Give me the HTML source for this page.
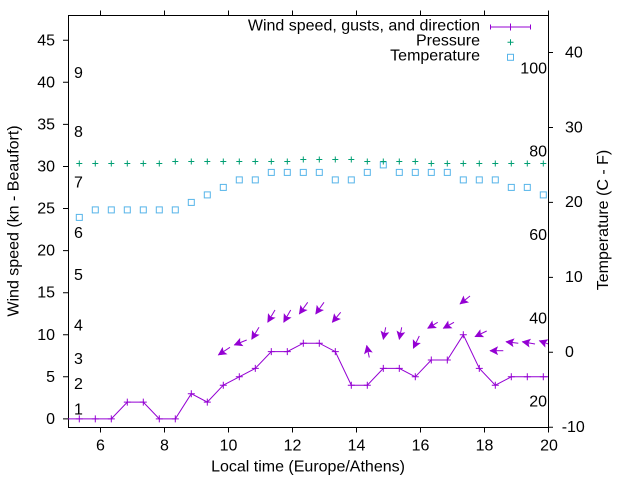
<!DOCTYPE html>
<html>
<head>
<meta charset="utf-8">
<style>
html,body{margin:0;padding:0;background:#fff;}
svg{display:block;}
text{font-family:"Liberation Sans",Arial,sans-serif;font-size:16px;fill:#000;}
</style>
</head>
<body>
<svg width="640" height="480" viewBox="0 0 640 480" xmlns="http://www.w3.org/2000/svg">
<defs>
<clipPath id="pc"><rect x="68" y="15" width="480" height="412.5"/></clipPath>
<marker id="ah" markerUnits="userSpaceOnUse" viewBox="-9 -5 10 10" markerWidth="10" markerHeight="10" refX="0" refY="0" orient="auto">
<path d="M0,0 L-7.5,-3.8 L-6,0 L-7.5,3.8 Z" fill="#9400d3" stroke="#9400d3" stroke-width="0.6" stroke-linejoin="miter"/>
</marker>
</defs>
<rect width="640" height="480" fill="#fff"/>

<!-- border -->
<rect x="68.5" y="15.5" width="480" height="412" fill="none" stroke="#000" stroke-width="1"/>

<!-- ticks -->
<path stroke="#000" stroke-width="1" fill="none" d="
M63,418.9h5 M63,376.8h5 M63,334.8h5 M63,292.7h5 M63,250.6h5 M63,208.5h5 M63,166.5h5 M63,124.4h5 M63,82.3h5 M63,40.3h5
M548,427.3h5 M548,352.3h5 M548,277.4h5 M548,202.4h5 M548,127.5h5 M548,52.5h5
M100.5,427.5v5 M164.5,427.5v5 M228.5,427.5v5 M292.5,427.5v5 M356.5,427.5v5 M420.5,427.5v5 M484.5,427.5v5 M548.5,427.5v5
M100.5,15.5v-5 M164.5,15.5v-5 M228.5,15.5v-5 M292.5,15.5v-5 M356.5,15.5v-5 M420.5,15.5v-5 M484.5,15.5v-5 M548.5,15.5v-5"/>

<!-- left tick labels -->
<g text-anchor="end">
<text x="55" y="423.9">0</text>
<text x="55" y="381.8">5</text>
<text x="55" y="339.8">10</text>
<text x="55" y="297.7">15</text>
<text x="55" y="255.6">20</text>
<text x="55" y="213.5">25</text>
<text x="55" y="171.5">30</text>
<text x="55" y="129.4">35</text>
<text x="55" y="87.3">40</text>
<text x="55" y="45.3">45</text>
</g>

<!-- right tick labels -->
<text x="561.7" y="432">-10</text>
<text x="565" y="357">0</text>
<text x="565" y="282.2">10</text>
<text x="565" y="207.2">20</text>
<text x="565" y="132.3">30</text>
<text x="565" y="57.3">40</text>

<!-- bottom tick labels -->
<g text-anchor="middle">
<text x="100.5" y="450.5">6</text>
<text x="164.5" y="450.5">8</text>
<text x="228.5" y="450.5">10</text>
<text x="292.5" y="450.5">12</text>
<text x="356.5" y="450.5">14</text>
<text x="420.5" y="450.5">16</text>
<text x="484.5" y="450.5">18</text>
<text x="549" y="450.5">20</text>
</g>

<!-- Beaufort labels -->
<text x="74" y="414.5">1</text>
<text x="74" y="389.2">2</text>
<text x="74" y="364">3</text>
<text x="74" y="330.3">4</text>
<text x="74" y="279.9">5</text>
<text x="74" y="237.8">6</text>
<text x="74" y="187.3">7</text>
<text x="74" y="136.8">8</text>
<text x="74" y="77.9">9</text>

<!-- Fahrenheit labels -->
<g text-anchor="end">
<text x="547" y="406.6">20</text>
<text x="547" y="323.3">40</text>
<text x="547" y="240">60</text>
<text x="547" y="156.7">80</text>
<text x="547" y="73.4">100</text>
</g>

<!-- axis labels -->
<text x="308" y="471.5" text-anchor="middle">Local time (Europe/Athens)</text>
<text transform="translate(18.5,221) rotate(-90)" text-anchor="middle">Wind speed (kn - Beaufort)</text>
<text transform="translate(608,220) rotate(-90)" text-anchor="middle">Temperature (C - F)</text>

<g clip-path="url(#pc)">
<!-- temperature -->
<g fill="none" stroke="#56b4e9" stroke-width="1">
<rect x="76.3" y="214.4" width="6" height="6"/>
<rect x="92.3" y="206.9" width="6" height="6"/>
<rect x="108.3" y="206.9" width="6" height="6"/>
<rect x="124.3" y="206.9" width="6" height="6"/>
<rect x="140.3" y="206.9" width="6" height="6"/>
<rect x="156.3" y="206.9" width="6" height="6"/>
<rect x="172.3" y="206.9" width="6" height="6"/>
<rect x="188.3" y="199.4" width="6" height="6"/>
<rect x="204.3" y="191.9" width="6" height="6"/>
<rect x="220.3" y="184.4" width="6" height="6"/>
<rect x="236.3" y="176.9" width="6" height="6"/>
<rect x="252.3" y="176.9" width="6" height="6"/>
<rect x="268.3" y="169.4" width="6" height="6"/>
<rect x="284.3" y="169.4" width="6" height="6"/>
<rect x="300.3" y="169.4" width="6" height="6"/>
<rect x="316.3" y="169.4" width="6" height="6"/>
<rect x="332.3" y="176.9" width="6" height="6"/>
<rect x="348.3" y="176.9" width="6" height="6"/>
<rect x="364.3" y="169.4" width="6" height="6"/>
<rect x="380.3" y="161.9" width="6" height="6"/>
<rect x="396.3" y="169.4" width="6" height="6"/>
<rect x="412.3" y="169.4" width="6" height="6"/>
<rect x="428.3" y="169.4" width="6" height="6"/>
<rect x="444.3" y="169.4" width="6" height="6"/>
<rect x="460.3" y="176.9" width="6" height="6"/>
<rect x="476.3" y="176.9" width="6" height="6"/>
<rect x="492.3" y="176.9" width="6" height="6"/>
<rect x="508.3" y="184.4" width="6" height="6"/>
<rect x="524.3" y="184.4" width="6" height="6"/>
<rect x="540.3" y="191.9" width="6" height="6"/>
</g>

<!-- pressure -->
<path fill="none" stroke="#009e73" stroke-width="1" d="
M76.3,163.5h6M79.3,160.5v6
M92.3,163.5h6M95.3,160.5v6
M108.3,163.5h6M111.3,160.5v6
M124.3,163.5h6M127.3,160.5v6
M140.3,163.5h6M143.3,160.5v6
M156.3,163.5h6M159.3,160.5v6
M172.3,161.5h6M175.3,158.5v6
M188.3,161.5h6M191.3,158.5v6
M204.3,161.5h6M207.3,158.5v6
M220.3,161.5h6M223.3,158.5v6
M236.3,161.5h6M239.3,158.5v6
M252.3,161.5h6M255.3,158.5v6
M268.3,161.5h6M271.3,158.5v6
M284.3,161.5h6M287.3,158.5v6
M300.3,159.5h6M303.3,156.5v6
M316.3,159.5h6M319.3,156.5v6
M332.3,159.5h6M335.3,156.5v6
M348.3,159.5h6M351.3,156.5v6
M364.3,161.5h6M367.3,158.5v6
M380.3,161.5h6M383.3,158.5v6
M396.3,161.5h6M399.3,158.5v6
M412.3,161.5h6M415.3,158.5v6
M428.3,163.5h6M431.3,160.5v6
M444.3,163.5h6M447.3,160.5v6
M460.3,163.5h6M463.3,160.5v6
M476.3,163.5h6M479.3,160.5v6
M492.3,163.5h6M495.3,160.5v6
M508.3,163.5h6M511.3,160.5v6
M524.3,163.5h6M527.3,160.5v6
M540.3,163.5h6M543.3,160.5v6"/>

<!-- wind line -->
<polyline fill="none" stroke="#9400d3" stroke-width="1" points="68,418.9 79.3,418.9 95.3,418.9 111.3,418.9 127.3,402.1 143.3,402.1 159.3,418.9 175.3,418.9 191.3,393.7 207.3,402.1 223.3,385.2 239.3,376.8 255.3,368.4 271.3,351.6 287.3,351.6 303.3,343.2 319.3,343.2 335.3,351.6 351.3,385.2 367.3,385.2 383.3,368.4 399.3,368.4 415.3,376.8 431.3,360 447.3,360 463.3,334.8 479.3,368.4 495.3,385.2 511.3,376.8 527.3,376.8 543.3,376.8 549,376.8"/>
<path fill="none" stroke="#9400d3" stroke-width="1" d="
M75.8,418.9h7M79.3,415.4v7
M91.8,418.9h7M95.3,415.4v7
M107.8,418.9h7M111.3,415.4v7
M123.8,402.1h7M127.3,398.6v7
M139.8,402.1h7M143.3,398.6v7
M155.8,418.9h7M159.3,415.4v7
M171.8,418.9h7M175.3,415.4v7
M187.8,393.7h7M191.3,390.2v7
M203.8,402.1h7M207.3,398.6v7
M219.8,385.2h7M223.3,381.7v7
M235.8,376.8h7M239.3,373.3v7
M251.8,368.4h7M255.3,364.9v7
M267.8,351.6h7M271.3,348.1v7
M283.8,351.6h7M287.3,348.1v7
M299.8,343.2h7M303.3,339.7v7
M315.8,343.2h7M319.3,339.7v7
M331.8,351.6h7M335.3,348.1v7
M347.8,385.2h7M351.3,381.7v7
M363.8,385.2h7M367.3,381.7v7
M379.8,368.4h7M383.3,364.9v7
M395.8,368.4h7M399.3,364.9v7
M411.8,376.8h7M415.3,373.3v7
M427.8,360h7M431.3,356.5v7
M443.8,360h7M447.3,356.5v7
M459.8,334.8h7M463.3,331.3v7
M475.8,368.4h7M479.3,364.9v7
M491.8,385.2h7M495.3,381.7v7
M507.8,376.8h7M511.3,373.3v7
M523.8,376.8h7M527.3,373.3v7
M539.8,376.8h7M543.3,373.3v7"/>

<!-- wind direction arrows -->
<g stroke="#9400d3" stroke-width="1" fill="none" marker-end="url(#ah)">
<line x1="230" y1="347.3" x2="218.3" y2="355"/>
<line x1="246.7" y1="340" x2="234.3" y2="345"/>
<line x1="259" y1="327.3" x2="251.7" y2="339.3"/>
<line x1="275" y1="310" x2="267.7" y2="322.3"/>
<line x1="290.7" y1="310" x2="283.7" y2="322.3"/>
<line x1="307.7" y1="302.3" x2="299.3" y2="314"/>
<line x1="324" y1="302.3" x2="315.7" y2="314"/>
<line x1="340.7" y1="312.3" x2="332.3" y2="322.3"/>
<line x1="369.3" y1="357.5" x2="366.7" y2="345.5"/>
<line x1="385.7" y1="327.3" x2="383.3" y2="339.3"/>
<line x1="401.7" y1="327.3" x2="399.3" y2="339.3"/>
<line x1="419.3" y1="336" x2="413.3" y2="348.3"/>
<line x1="437.7" y1="322.3" x2="427.7" y2="328.3"/>
<line x1="454" y1="322.3" x2="443.3" y2="328.3"/>
<line x1="470" y1="296" x2="460" y2="304"/>
<line x1="486.7" y1="331" x2="475" y2="336.7"/>
<line x1="503.3" y1="350.7" x2="490" y2="350.7"/>
<line x1="518.3" y1="343.3" x2="506" y2="341.7"/>
<line x1="535" y1="344" x2="522.3" y2="341.7"/>
<line x1="551" y1="345" x2="539.3" y2="340.7"/>
</g>
</g>

<!-- legend -->
<g text-anchor="end">
<text x="480" y="30.7">Wind speed, gusts, and direction</text>
<text x="480" y="45.7">Pressure</text>
<text x="480" y="60.5">Temperature</text>
</g>
<path fill="none" stroke="#9400d3" stroke-width="1" d="M490.5,27h40M490.5,24.5v5M530.5,24.5v5M507,27h7M510.5,23.5v7"/>
<path fill="none" stroke="#009e73" stroke-width="1" d="M507.5,42.3h6M510.5,39.3v6"/>
<rect x="507.5" y="54.3" width="6" height="6" fill="none" stroke="#56b4e9" stroke-width="1"/>
</svg>
</body>
</html>
